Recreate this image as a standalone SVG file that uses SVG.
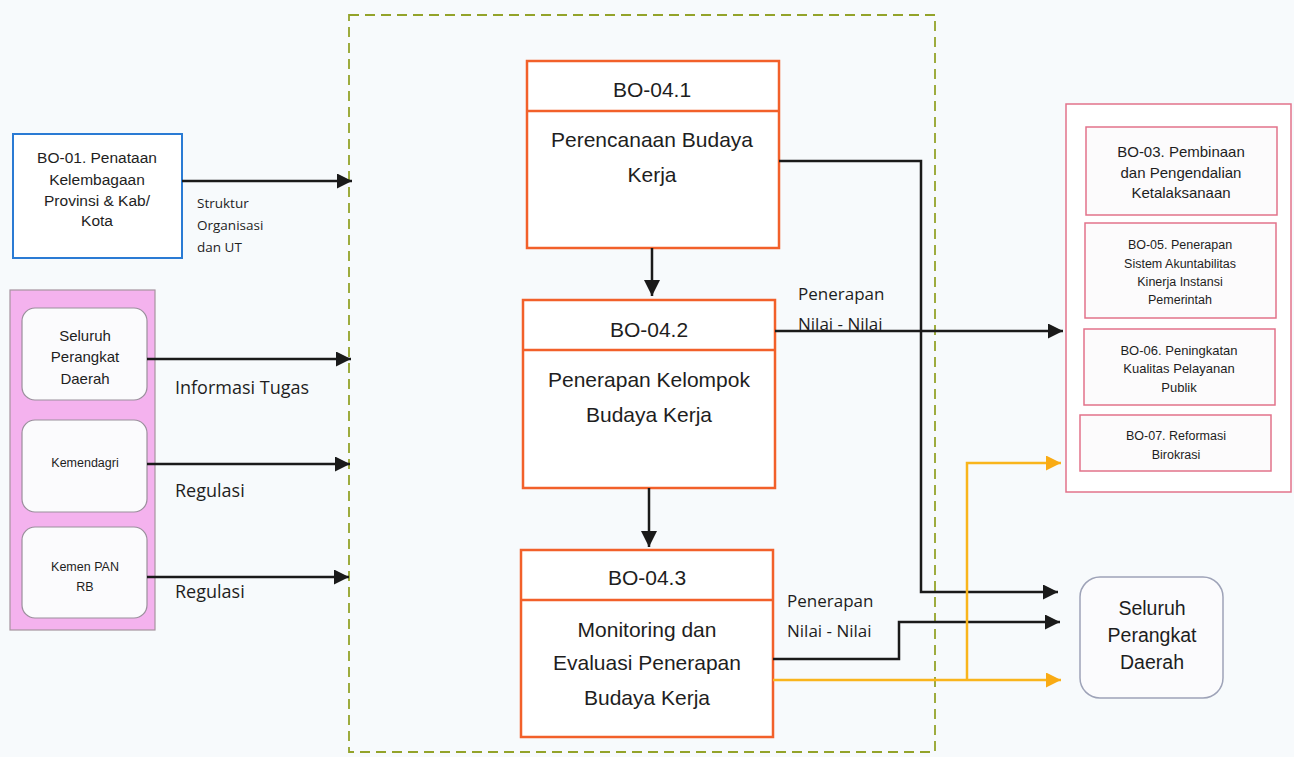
<svg xmlns="http://www.w3.org/2000/svg" width="1294" height="757" viewBox="0 0 1294 757">
  <defs>
    <marker id="arrowBlack" viewBox="0 0 10 10" refX="10" refY="5" markerWidth="6" markerHeight="6" markerUnits="strokeWidth" orient="auto">
      <path d="M0,0 L10,5 L0,10 z" fill="#1a1a1a"/>
    </marker>
    <marker id="arrowBlackSm" viewBox="0 0 10 10" refX="10" refY="5" markerWidth="6.5" markerHeight="6.5" markerUnits="strokeWidth" orient="auto">
      <path d="M0,0 L10,5 L0,10 z" fill="#1a1a1a"/>
    </marker>
    <marker id="arrowYellow" viewBox="0 0 10 10" refX="10" refY="5" markerWidth="6" markerHeight="6" markerUnits="strokeWidth" orient="auto">
      <path d="M0,0 L10,5 L0,10 z" fill="#f9ab14"/>
    </marker>
  </defs>
  <style>
    .node { font-family: "Liberation Sans", Arial, sans-serif; fill: #1e1e1e; text-anchor: middle; }
    .lbl { font-family: "Open Sans", "Noto Sans", sans-serif; fill: #1e1e1e; }
    .boBox { fill: #ffffff; stroke: #f2602a; stroke-width: 2.5; }
    .boDiv { stroke: #f2602a; stroke-width: 2.5; }
    .leftItem { fill: #fbfbfd; stroke: #9a8f9c; stroke-width: 1.2; }
    .rightItem { fill: #fcfbfc; stroke: #e2738a; stroke-width: 1.5; }
    .conn { fill: none; stroke: #1a1a1a; stroke-width: 2.5; }
    .connY { fill: none; stroke: #f9b51c; stroke-width: 2.5; }
  </style>

  <!-- page -->
  <rect x="0" y="0" width="1294" height="757" fill="#f7fafc"/>

  <!-- process boundary -->
  <rect id="boundary" x="349" y="15" width="586" height="737" fill="none" stroke="#93a32a" stroke-width="1.8" stroke-dasharray="10,6"/>

  <!-- input: BO-01 -->
  <g id="bo01">
    <rect x="13" y="134" width="169" height="124" fill="#ffffff" stroke="#2a7bd4" stroke-width="2"/>
    <text class="node" font-size="15.5"><tspan x="97" y="163">BO-01. Penataan</tspan><tspan x="97" y="185">Kelembagaan</tspan><tspan x="97" y="206">Provinsi &amp; Kab/</tspan><tspan x="97" y="226">Kota</tspan></text>
  </g>

  <!-- input group -->
  <g id="sources">
    <rect x="10" y="290" width="145" height="340" fill="#f4b2ee" stroke="#a6949f" stroke-width="1.2"/>
  </g>
  <g id="src-perangkat">
    <rect class="leftItem" x="22" y="308" width="125" height="92" rx="13"/>
    <text class="node" font-size="15"><tspan x="85" y="341">Seluruh</tspan><tspan x="85" y="362">Perangkat</tspan><tspan x="85" y="384">Daerah</tspan></text>
  </g>
  <g id="src-kemendagri">
    <rect class="leftItem" x="22" y="420" width="125" height="92" rx="13"/>
    <text class="node" font-size="12.5" x="85" y="467">Kemendagri</text>
  </g>
  <g id="src-kemenpan">
    <rect class="leftItem" x="22" y="527" width="125" height="91" rx="13"/>
    <text class="node" font-size="12.5"><tspan x="85" y="571">Kemen PAN</tspan><tspan x="85" y="591">RB</tspan></text>
  </g>

  <!-- BO-04.1 -->
  <g id="bo041">
    <rect class="boBox" x="527" y="61" width="252" height="187"/>
    <line class="boDiv" x1="527" y1="111" x2="779" y2="111"/>
    <text class="node" font-size="21" x="652" y="97">BO-04.1</text>
    <text class="node" font-size="21"><tspan x="652" y="147">Perencanaan Budaya</tspan><tspan x="652" y="182">Kerja</tspan></text>
  </g>

  <!-- BO-04.2 -->
  <g id="bo042">
    <rect class="boBox" x="523" y="300" width="252" height="188"/>
    <line class="boDiv" x1="523" y1="350" x2="775" y2="350"/>
    <text class="node" font-size="21" x="649" y="337">BO-04.2</text>
    <text class="node" font-size="21"><tspan x="649" y="387">Penerapan Kelompok</tspan><tspan x="649" y="422">Budaya Kerja</tspan></text>
  </g>

  <!-- BO-04.3 -->
  <g id="bo043">
    <rect class="boBox" x="521" y="550" width="252" height="187"/>
    <line class="boDiv" x1="521" y1="600" x2="773" y2="600"/>
    <text class="node" font-size="21" x="647" y="585">BO-04.3</text>
    <text class="node" font-size="21"><tspan x="647" y="637">Monitoring dan</tspan><tspan x="647" y="670">Evaluasi Penerapan</tspan><tspan x="647" y="705">Budaya Kerja</tspan></text>
  </g>

  <!-- output group -->
  <g id="outputs">
    <rect x="1066" y="104" width="225" height="388" fill="#ffffff" stroke="#e2738a" stroke-width="1.5"/>
  </g>
  <g id="bo03">
    <rect class="rightItem" x="1086" y="127" width="191" height="88"/>
    <text class="node" font-size="15"><tspan x="1181" y="157">BO-03. Pembinaan</tspan><tspan x="1181" y="178">dan Pengendalian</tspan><tspan x="1181" y="198">Ketalaksanaan</tspan></text>
  </g>
  <g id="bo05">
    <rect class="rightItem" x="1085" y="223" width="191" height="95"/>
    <text class="node" font-size="12.5"><tspan x="1180" y="249">BO-05. Penerapan</tspan><tspan x="1180" y="268">Sistem Akuntabilitas</tspan><tspan x="1180" y="286">Kinerja Instansi</tspan><tspan x="1180" y="304">Pemerintah</tspan></text>
  </g>
  <g id="bo06">
    <rect class="rightItem" x="1084" y="329" width="191" height="76"/>
    <text class="node" font-size="13"><tspan x="1179" y="355">BO-06. Peningkatan</tspan><tspan x="1179" y="373">Kualitas Pelayanan</tspan><tspan x="1179" y="392">Publik</tspan></text>
  </g>
  <g id="bo07">
    <rect class="rightItem" x="1080" y="415" width="191" height="56"/>
    <text class="node" font-size="12.5"><tspan x="1176" y="440">BO-07. Reformasi</tspan><tspan x="1176" y="459">Birokrasi</tspan></text>
  </g>

  <!-- output: Seluruh Perangkat Daerah -->
  <g id="out-perangkat">
    <rect x="1080" y="577" width="143" height="121" rx="20" fill="#fbfbfd" stroke="#9ea3b8" stroke-width="1.5"/>
    <text class="node" font-size="19.5"><tspan x="1152" y="615">Seluruh</tspan><tspan x="1152" y="642">Perangkat</tspan><tspan x="1152" y="669">Daerah</tspan></text>
  </g>

  <!-- connectors -->
  <g id="connectors">
    <path class="conn" d="M182,181 L352,181" marker-end="url(#arrowBlack)"/>
    <path class="conn" d="M147,359 L351,359" marker-end="url(#arrowBlack)"/>
    <path class="conn" d="M147,464 L350,464" marker-end="url(#arrowBlack)"/>
    <path class="conn" d="M147,577 L349,577" marker-end="url(#arrowBlack)"/>

    <path class="conn" d="M652,248 L652,296" marker-end="url(#arrowBlackSm)"/>
    <path class="conn" d="M649,488 L649,547" marker-end="url(#arrowBlackSm)"/>

    <path class="conn" d="M779,161 L921,161 L921,592 L1058,592" marker-end="url(#arrowBlack)"/>
    <path class="conn" d="M775,331 L1063,331" marker-end="url(#arrowBlack)"/>
    <path class="conn" d="M773,659 L899,659 L899,622 L1060,622" marker-end="url(#arrowBlack)"/>

    <path class="connY" d="M773,680 L1061,680" marker-end="url(#arrowYellow)"/>
    <path class="connY" d="M967,680 L967,463 L1061,463" marker-end="url(#arrowYellow)"/>
  </g>

  <!-- connector labels -->
  <g id="labels">
    <text class="lbl" font-size="13.5"><tspan x="197" y="208">Struktur</tspan><tspan x="197" y="230">Organisasi</tspan><tspan x="197" y="252">dan UT</tspan></text>
    <text class="lbl" font-size="18" x="175" y="394">Informasi Tugas</text>
    <text class="lbl" font-size="18" x="175" y="497">Regulasi</text>
    <text class="lbl" font-size="18" x="175" y="598">Regulasi</text>
    <text class="lbl" font-size="17"><tspan x="798" y="300">Penerapan</tspan><tspan x="798" y="330">Nilai - Nilai</tspan></text>
    <text class="lbl" font-size="17"><tspan x="787" y="607">Penerapan</tspan><tspan x="787" y="637">Nilai - Nilai</tspan></text>
  </g>
</svg>
